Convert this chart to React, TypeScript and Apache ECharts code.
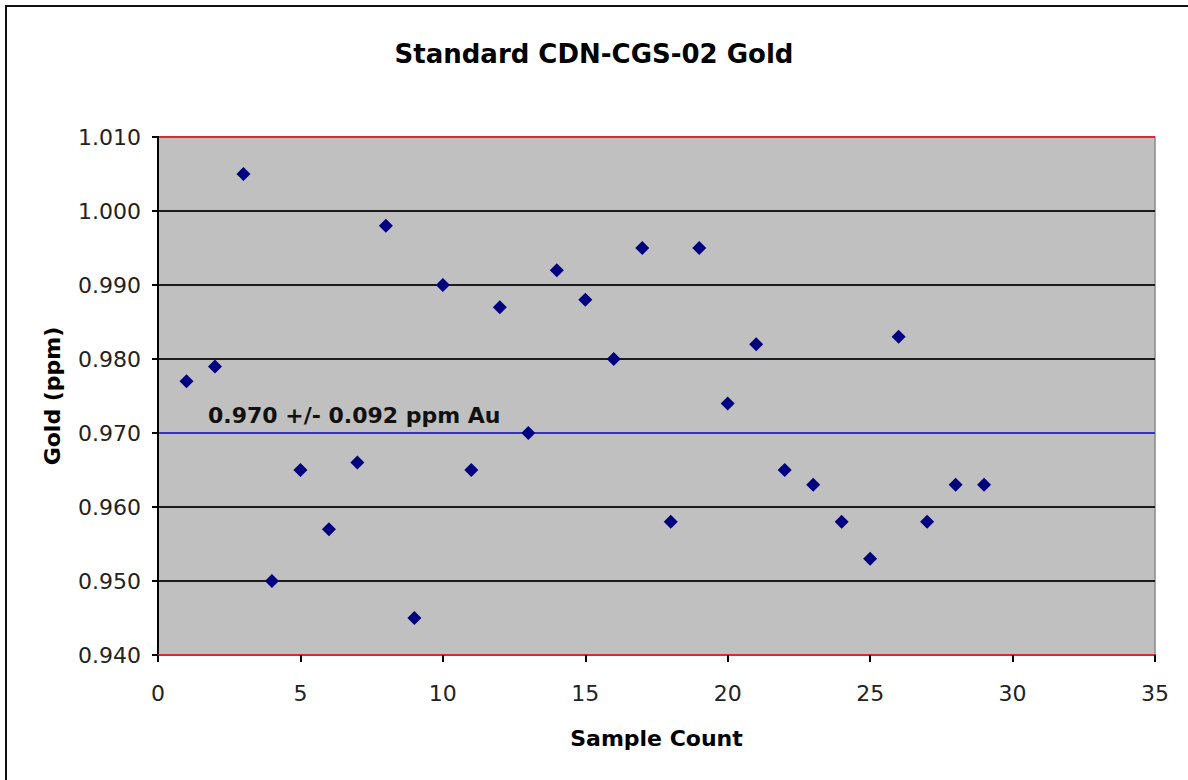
import React, { useEffect, useRef } from "react";
import * as echarts from "echarts";

const chartTitle = "Standard CDN-CGS-02 Gold";
const xAxisName = "Sample Count";
const yAxisName = "Gold (ppm)";
const sampleCount = [1, 2, 3, 4, 5, 6, 7, 8, 9, 10, 11, 12, 13, 14, 15, 16, 17, 18, 19, 20, 21, 22, 23, 24, 25, 26, 27, 28, 29];
const goldPpm = [
  0.977, 0.979, 1.005, 0.95, 0.965, 0.957, 0.966, 0.998, 0.945, 0.99,
  0.965, 0.987, 0.97, 0.992, 0.988, 0.98, 0.995, 0.958, 0.995, 0.974,
  0.982, 0.965, 0.963, 0.958, 0.953, 0.983, 0.958, 0.963, 0.963,
];
const certifiedValue = 0.97;
const tolerance = 0.092;
const yTickValues = [0.94, 0.95, 0.96, 0.97, 0.98, 0.99, 1.0, 1.01];
const xTickValues = [0, 5, 10, 15, 20, 25, 30, 35];

const FONT = "DejaVu Sans";
const RED = "#e0262e";
const BLACK = "#1c1c1c";
const BLUE = "#3434c8";

export default function App() {
  const ref = useRef<HTMLDivElement>(null);
  useEffect(() => {
    if (!ref.current) return;
    const chart = echarts.init(ref.current, undefined, { renderer: "svg" });
    const splitColors = yTickValues.map((v, i) =>
      i === 0 || i === yTickValues.length - 1 ? RED : Math.abs(v - certifiedValue) < 1e-9 ? BLUE : BLACK
    );
    chart.setOption({
      animation: false,
      backgroundColor: "#ffffff",
      title: {
        text: chartTitle,
        left: "center",
        top: 36,
        textStyle: { fontFamily: FONT, fontSize: 26, fontWeight: "bold", color: "#000" },
      },
      grid: {
        left: 158,
        top: 137,
        width: 997,
        height: 518,
        show: true,
        backgroundColor: "#c0c0c0",
        borderColor: "#8a8a8a",
        borderWidth: 1.5,
      },
      xAxis: {
        type: "value",
        min: xTickValues[0],
        max: xTickValues[xTickValues.length - 1],
        interval: 5,
        name: xAxisName,
        nameLocation: "middle",
        nameGap: 72,
        nameTextStyle: { fontFamily: FONT, fontSize: 22, fontWeight: "bold", color: "#000" },
        axisLine: { show: true, onZero: false, lineStyle: { color: RED, width: 2 } },
        axisTick: { show: true, length: 7, lineStyle: { color: "#000", width: 2 } },
        axisLabel: { margin: 27, fontFamily: FONT, fontSize: 22, color: "#222" },
        splitLine: { show: false },
      },
      yAxis: {
        type: "value",
        min: yTickValues[0],
        max: yTickValues[yTickValues.length - 1],
        interval: 0.01,
        name: yAxisName,
        nameLocation: "middle",
        nameGap: 95,
        nameRotate: 90,
        nameTextStyle: { fontFamily: FONT, fontSize: 22, fontWeight: "bold", color: "#000" },
        axisLine: { show: true, lineStyle: { color: "#000", width: 2 } },
        axisTick: { show: true, length: 6, lineStyle: { color: "#000", width: 2 } },
        axisLabel: {
          margin: 17,
          fontFamily: FONT,
          fontSize: 22,
          color: "#222",
          formatter: (v: number) => v.toFixed(3),
        },
        splitLine: { show: true, lineStyle: { color: splitColors, width: 2 } },
      },
      graphic: [
        {
          type: "rect",
          silent: true,
          shape: { x: 6, y: 6, width: 1200, height: 800 },
          style: { fill: "none", stroke: "#111", lineWidth: 2 },
          z: 100,
        },
        {
          type: "text",
          left: 208,
          top: 404,
          style: {
            text: `${certifiedValue.toFixed(3)} +/- ${tolerance.toFixed(3)} ppm Au`,
            fontFamily: FONT,
            fontSize: 22,
            fontWeight: "bold",
            fill: "#111",
          },
          z: 50,
        },
      ],
      series: [
        {
          type: "scatter",
          data: sampleCount.map((x, i) => [x, goldPpm[i]]),
          symbol: "diamond",
          symbolSize: 14,
          itemStyle: { color: "#000080", opacity: 1 },
          z: 10,
        },
      ],
    });
    return () => chart.dispose();
  }, []);
  return (
    <div
      ref={ref}
      style={{ position: "absolute", left: 0, top: 0, width: 1188, height: 780, background: "#fff" }}
    />
  );
}
